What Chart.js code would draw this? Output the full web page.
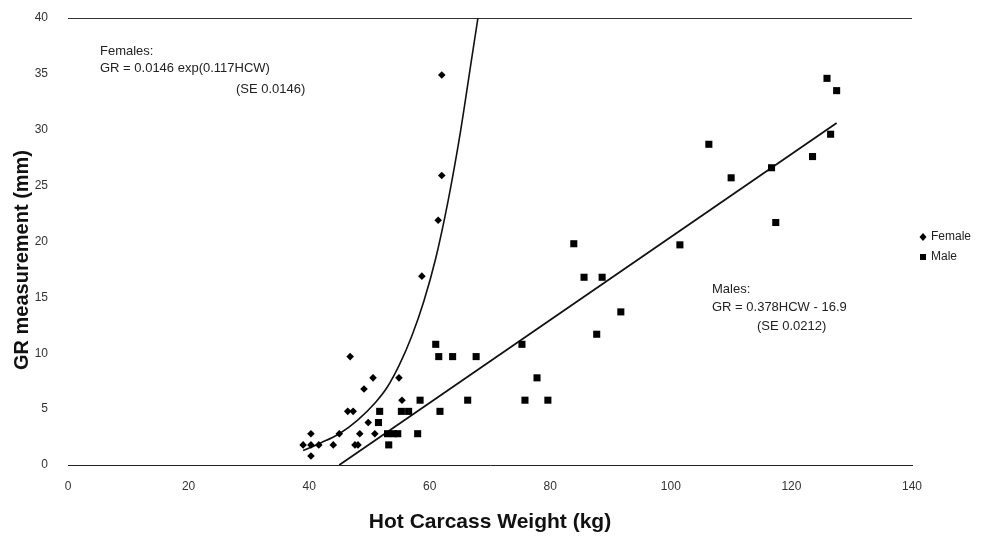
<!DOCTYPE html>
<html>
<head>
<meta charset="utf-8">
<script src="https://cdn.jsdelivr.net/npm/chart.js@4/dist/chart.umd.min.js"></script>
<style>
 html,body{margin:0;padding:0;background:#fff;}
 #wrap{width:1004px;height:536px;}
</style>
</head>
<body>
<div id="wrap"><canvas id="chart"></canvas></div>
<script>
/* data */
var femaleX=[39,40.3,40.3,40.3,41.6,44,45,46.4,47.3,46.8,47.6,48.1,48.4,49.1,49.8,50.6,50.9,54.9,55.4,58.7,61.4,62,62];
var femaleY=[1.8,2.8,1.8,0.8,1.8,1.8,2.8,4.8,4.8,9.7,1.8,1.8,2.8,6.8,3.8,7.8,2.8,7.8,5.8,16.9,21.9,25.9,34.9];
var maleX=[51.5,51.7,53,53.2,54,54.7,55.3,56.5,58,58.4,61,61.5,61.7,63.8,66.3,67.7,75.3,75.8,77.8,79.6,83.9,85.6,87.7,88.6,91.7,101.5,106.3,110,116.7,117.4,123.5,125.9,126.5,127.5];
var maleY=[3.8,4.8,2.8,1.8,2.8,2.8,4.8,4.8,2.8,5.8,10.8,9.7,4.8,9.7,5.8,9.7,10.8,5.8,7.8,5.8,19.8,16.8,11.7,16.8,13.7,19.7,28.7,25.7,26.6,21.7,27.6,34.6,29.6,33.5];
// fitted curves as traced on the picture
var femaleFitX=[39,42,45,48,51,53,55,57,59,61,63,65,67,68];
var femaleFitY=[1.3,2.0,2.8,4.0,5.6,7.0,9.0,11.5,14.6,18.5,23.5,29.5,36.5,40];
var maleFitX=[45,127.5];
var maleFitY=[0,30.6];
// labels
var seriesNames=['Female','Male'];
var femaleNote=['Females:','GR = 0.0146 exp(0.117HCW)','(SE 0.0146)'];
var maleNote=['Males:','GR = 0.378HCW - 16.9','(SE 0.0212)'];
var xTitle='Hot Carcass Weight (kg)';
var yTitle='GR measurement (mm)';

var FONT='"Liberation Sans", Arial, sans-serif';

function pts(xs,ys){
 var out=[];
 for(var i=0;i<xs.length;i++){out.push({x:xs[i],y:ys[i]});}
 return out;
}

/* extra text: notes, y title, legend */
var extras={
 id:'extras',
 afterDraw:function(chart){
  var c=chart.ctx;
  c.save();
  c.fillStyle='#222';
  c.font='13px '+FONT;
  c.textBaseline='middle';
  c.textAlign='left';
  // female note
  c.fillText(femaleNote[0],100,51);
  c.fillText(femaleNote[1],100,68);
  c.fillText(femaleNote[2],236,89);
  // male note
  c.fillText(maleNote[0],712,289);
  c.fillText(maleNote[1],712,307);
  c.fillText(maleNote[2],757,326);
  // legend
  c.fillStyle='#000';
  c.beginPath();
  c.moveTo(923,233);c.lineTo(926.5,237);c.lineTo(923,241);c.lineTo(919.5,237);
  c.closePath();c.fill();
  c.fillRect(920,254,6,6);
  c.fillStyle='#222';
  c.font='12px '+FONT;
  c.fillText(seriesNames[0],931,237);
  c.fillText(seriesNames[1],931,257);
  // y title
  c.fillStyle='#111';
  c.font='bold 20px '+FONT;
  c.textAlign='center';
  c.translate(22,260);
  c.rotate(-Math.PI/2);
  c.fillText(yTitle,0,0);
  c.restore();
 }
};

var ctx=document.getElementById('chart').getContext('2d');
var myChart=new Chart(ctx,{
 type:'scatter',
 data:{
  datasets:[
   {
    label:seriesNames[0],
    data:pts(femaleX,femaleY),
    pointStyle:'rectRot',
    pointRadius:3.8,
    backgroundColor:'#000',
    borderColor:'#000',
    borderWidth:0
   },
   {
    label:seriesNames[1],
    data:pts(maleX,maleY),
    pointStyle:'rect',
    pointRadius:5,
    backgroundColor:'#000',
    borderColor:'#000',
    borderWidth:0
   },
   {
    label:'Female fit',
    data:pts(femaleFitX,femaleFitY),
    showLine:true,
    cubicInterpolationMode:'monotone',
    pointRadius:0,
    borderColor:'#111',
    borderWidth:1.6,
    fill:false
   },
   {
    label:'Male fit',
    data:pts(maleFitX,maleFitY),
    showLine:true,
    pointRadius:0,
    borderColor:'#111',
    borderWidth:1.8,
    fill:false
   }
  ]
 },
 options:{
  responsive:true,
  maintainAspectRatio:false,
  animation:false,
  layout:{padding:{left:0,right:92,top:18,bottom:0}},
  plugins:{legend:{display:false},tooltip:{enabled:false}},
  scales:{
   x:{
    type:'linear',min:0,max:140,
    ticks:{stepSize:20,padding:14,color:'#333',font:{family:FONT,size:12}},
    grid:{display:false,drawTicks:false},
    border:{display:true,color:'#222',width:1},
    title:{display:true,text:xTitle,color:'#111',font:{family:FONT,size:21,weight:'bold'},padding:{top:0,bottom:1}},
    afterFit:function(s){s.height=71;}
   },
   y:{
    type:'linear',min:0,max:40,
    ticks:{stepSize:5,padding:20,color:'#333',font:{family:FONT,size:12}},
    grid:{drawTicks:false,color:function(c){return c.tick&&c.tick.value===40?'#333':'rgba(0,0,0,0)';}},
    border:{display:false},
    afterFit:function(s){s.width=68;s.paddingTop=0;s.paddingBottom=0;}
   }
  }
 },
 plugins:[extras]
});
</script>
</body>
</html>
